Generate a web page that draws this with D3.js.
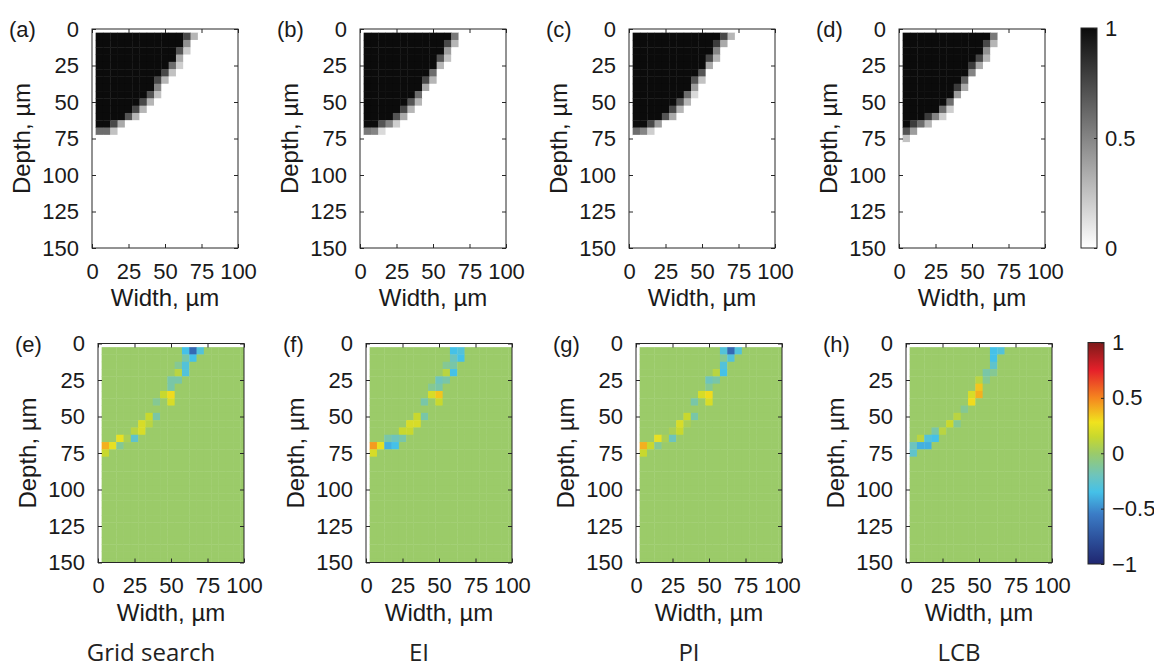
<!DOCTYPE html>
<html>
    <head>
        <title>Depth maps | D3</title>
        <script src="https://d3js.org/d3.v7.min.js" charset="utf-8"></script>
        <style>
            body {
                margin: 0;
                background: white;
            }
            .tick text {
                font-family: "Liberation Sans", Arial, sans-serif;
                font-size: 22px;
                fill: #1a1a1a;
            }
            .tick line, .box {
                stroke: #262626;
                stroke-width: 1;
            }
            .label {
                font-family: "Liberation Sans", Arial, sans-serif;
                fill: #1a1a1a;
            }
            .method {
                font-family: "Open Sans", sans-serif;
                font-size: 24px;
                fill: #222;
            }
        </style>
    </head>

    <body>
        <script>
            // grid cell centres (um)
            var cellWidths = [5, 10, 15, 20, 25, 30, 35, 40, 45, 50, 55, 60, 65, 70, 75, 80, 85, 90, 95, 100];
            var cellDepths = [5, 10, 15, 20, 25, 30, 35, 40, 45, 50, 55, 60, 65, 70, 75,
                              80, 85, 90, 95, 100, 105, 110, 115, 120, 125, 130, 135, 140, 145, 150];

            var widthTicks = [0, 25, 50, 75, 100];
            var depthTicks = [0, 25, 50, 75, 100, 125, 150];
            var grayTicks = [0, 0.5, 1];
            var diffTicks = [-1, -0.5, 0, 0.5, 1];

            var topLabels = ["(a)", "(b)", "(c)", "(d)"];
            var bottomLabels = ["(e)", "(f)", "(g)", "(h)"];
            var methods = ["Grid search", "EI", "PI", "LCB"];

            // top row: per depth row -> [number of black cells, then grey values that follow]
            var edgeGrid = [[12,0.75,0.3],[12,0.45],[11,0.7,0.2],[11,0.35],[10,0.6,0.2],[9,0.75,0.25],[8,0.75,0.3],
                            [8,0.5],[7,0.7,0.25],[6,0.75,0.3],[5,0.75,0.3],[4,0.7,0.3],[2,0.75,0.35],[0,0.6,0.6,0.25]];
            var edgeEI = [[12,0.55],[11,0.75,0.3],[11,0.4],[10,0.7,0.25],[10,0.3],[9,0.6],[8,0.75,0.3],
                          [8,0.35],[7,0.6],[6,0.7,0.3],[5,0.75,0.3],[4,0.7,0.35],[2,0.7,0.5,0.2],[0,0.55,0.5,0.15]];
            var edgePI = [[12,0.75,0.3],[11,0.8,0.35],[11,0.5],[10,0.75,0.3],[10,0.35],[9,0.7],[8,0.7,0.25],
                          [8,0.4],[7,0.6,0.15],[6,0.7,0.3],[5,0.75,0.3],[4,0.7,0.35],[2,0.75,0.4],[0,0.6,0.5,0.2]];
            var edgeLCB = [[12,0.55],[11,0.75,0.3],[11,0.45],[10,0.75,0.3],[9,0.8,0.35],[9,0.5],[8,0.65],
                           [7,0.8,0.35],[7,0.4],[6,0.6],[5,0.6,0.2],[3,0.8,0.5,0.2],[1,0.8,0.6,0.3],[0,0.7,0.4],[0,0.25]];

            // bottom row: non-zero differences [width, depth, value]
            var diffGrid = [[60,5,-0.35],[65,5,-0.65],[70,5,-0.3],[60,10,-0.15],[65,10,-0.35],[55,15,-0.1],[60,15,-0.3],
                            [55,20,0.1],[60,20,-0.3],[50,25,-0.15],[55,25,-0.15],[50,30,-0.15],[45,35,0.15],[50,35,0.3],
                            [40,40,-0.1],[50,40,0.2],[35,50,0.15],[40,50,-0.15],[30,55,0.2],[35,55,0.1],[25,60,0.1],
                            [30,60,0.2],[15,65,0.25],[20,65,0.05],[25,65,-0.25],[5,70,0.4],[10,70,0.25],[15,70,-0.1],[5,75,0.15]];
            var diffEI = [[60,5,-0.35],[65,5,-0.3],[60,10,-0.2],[65,10,-0.35],[55,15,-0.1],[60,15,-0.15],[55,20,0.1],
                          [60,20,-0.35],[50,25,-0.2],[55,25,-0.15],[45,30,-0.1],[50,30,-0.15],[45,35,0.2],[50,35,0.35],
                          [40,40,-0.15],[50,40,0.15],[35,50,0.15],[40,50,-0.15],[30,55,0.2],[35,55,0.2],[25,60,0.15],
                          [30,60,0.15],[15,65,-0.15],[20,65,-0.2],[25,65,-0.15],[5,70,0.45],[10,70,0.25],[15,70,-0.4],
                          [20,70,-0.35],[5,75,0.2]];
            var diffPI = [[60,5,-0.3],[65,5,-0.65],[70,5,-0.3],[60,10,-0.1],[65,10,-0.3],[60,15,-0.3],[55,20,0.1],
                          [60,20,-0.35],[50,25,-0.2],[55,25,-0.15],[50,30,-0.1],[45,35,0.2],[50,35,0.3],[40,40,-0.15],
                          [50,40,0.2],[35,50,0.15],[40,50,-0.15],[30,55,0.2],[35,55,0.05],[25,60,0.05],[30,60,0.15],
                          [15,65,0.25],[20,65,0.05],[25,65,-0.2],[5,70,0.4],[10,70,0.15],[15,70,-0.1],[5,75,0.15]];
            var diffLCB = [[60,5,-0.35],[65,5,-0.3],[60,10,-0.35],[60,15,-0.25],[55,20,-0.15],[60,20,-0.1],[50,25,0.1],
                           [55,25,-0.1],[50,30,0.35],[45,35,0.2],[50,35,0.4],[45,40,0.3],[40,45,-0.1],[35,50,0.1],
                           [30,55,0.15],[35,55,-0.1],[20,60,-0.15],[25,60,0.1],[10,65,0.1],[15,65,-0.3],[20,65,-0.35],
                           [5,70,-0.2],[10,70,-0.4],[15,70,-0.4],[5,75,-0.25]];

            var topEdges = [edgeGrid, edgeEI, edgePI, edgeLCB];
            var bottomDiffs = [diffGrid, diffEI, diffPI, diffLCB];

            var width = 1154, height = 672;
            var plotW = 146, plotH = 219;
            var topLeft = [92, 360, 629, 899], topY = 29;
            var bottomLeft = [98, 366, 636, 906], bottomY = 343.5;

            var svg = d3.select("body").append("svg")
                .attr("width", width)
                .attr("height", height);

            var x = d3.scaleLinear().domain([0, 100]).range([0, plotW]);
            var y = d3.scaleLinear().domain([0, 150]).range([0, plotH]);

            var grayColor = d3.scaleLinear().domain([0, 1]).range(["#ffffff", "#0b0b0b"]);
            var jetStops = [-1, -0.75, -0.55, -0.35, -0.2, 0, 0.15, 0.28, 0.5, 0.75, 1];
            var jetColors = ["#1f2670", "#2e55a0", "#3b7cc6", "#45c1e8", "#6ec4bc", "#9bcb69",
                             "#c8d82e", "#f0e31e", "#f5861f", "#e5202a", "#7d1a1a"];
            var jetColor = d3.scaleLinear().domain(jetStops).range(jetColors);

            function gridFromEdges(edges) {
                var cells = [];
                cellDepths.forEach(function(dep, r) {
                    var row = edges[r] || [0];
                    cellWidths.forEach(function(w, c) {
                        var v = 0;
                        if (c < row[0]) v = 1;
                        else if (c - row[0] + 1 < row.length) v = row[c - row[0] + 1];
                        cells.push({w: w, d: dep, v: v});
                    });
                });
                return cells;
            }

            function gridFromDiffs(diffs) {
                var cells = [];
                cellDepths.forEach(function(dep) {
                    cellWidths.forEach(function(w) {
                        var hit = diffs.find(function(p) { return p[0] === w && p[1] === dep; });
                        cells.push({w: w, d: dep, v: hit ? hit[2] : 0});
                    });
                });
                return cells;
            }

            function drawPanel(left, top, cells, color, label, id) {
                var g = svg.append("g").attr("transform", "translate(" + left + "," + top + ")");

                svg.append("clipPath").attr("id", id)
                    .append("rect").attr("width", plotW).attr("height", plotH);

                g.append("g").attr("clip-path", "url(#" + id + ")")
                    .selectAll("rect")
                    .data(cells)
                    .enter()
                    .append("rect")
                    .attr("x", function(d) { return x(d.w - 2.5); })
                    .attr("y", function(d) { return y(d.d - 2.5); })
                    .attr("width", x(5) + 0.4)
                    .attr("height", y(5) + 0.4)
                    .attr("fill", function(d) { return color(d.v); });

                g.append("rect").attr("class", "box")
                    .attr("width", plotW).attr("height", plotH).attr("fill", "none");

                g.append("g").attr("transform", "translate(0," + plotH + ")")
                    .call(d3.axisBottom(x).tickValues(widthTicks).tickSizeInner(-4).tickSizeOuter(0).tickPadding(15));
                g.append("g")
                    .call(d3.axisTop(x).tickValues(widthTicks).tickSizeInner(-4).tickSizeOuter(0).tickFormat(""));
                g.append("g")
                    .call(d3.axisLeft(y).tickValues(depthTicks).tickSizeInner(-4).tickSizeOuter(0).tickPadding(13));
                g.append("g").attr("transform", "translate(" + plotW + ",0)")
                    .call(d3.axisRight(y).tickValues(depthTicks).tickSizeInner(-4).tickSizeOuter(0).tickFormat(""));
                g.selectAll(".domain").remove();

                g.append("text").attr("class", "label")
                    .attr("transform", "translate(-62," + (plotH / 2) + ") rotate(-90)")
                    .attr("text-anchor", "middle")
                    .style("font-size", "24px")
                    .text("Depth, \u00b5m");

                g.append("text").attr("class", "label")
                    .attr("x", plotW / 2)
                    .attr("y", plotH + 58)
                    .attr("text-anchor", "middle")
                    .style("font-size", "24px")
                    .text("Width, \u00b5m");

                svg.append("text").attr("class", "label")
                    .attr("x", left - 83)
                    .attr("y", top + 8)
                    .style("font-size", "22px")
                    .text(label);
            }

            function drawColorbar(left, top, h, domain, stops, colors, ticks, id) {
                var grad = svg.append("defs").append("linearGradient")
                    .attr("id", id).attr("x1", 0).attr("y1", 1).attr("x2", 0).attr("y2", 0);
                stops.forEach(function(s, i) {
                    grad.append("stop")
                        .attr("offset", (s - domain[0]) / (domain[1] - domain[0]))
                        .attr("stop-color", colors[i]);
                });
                var cy = d3.scaleLinear().domain(domain).range([h, 0]);
                var g = svg.append("g").attr("transform", "translate(" + left + "," + top + ")");
                g.append("rect").attr("width", 16).attr("height", h)
                    .attr("fill", "url(#" + id + ")");
                g.append("rect").attr("class", "box").attr("width", 16).attr("height", h).attr("fill", "none");
                g.append("g").attr("transform", "translate(16,0)")
                    .call(d3.axisRight(cy).tickValues(ticks).tickSizeInner(-3).tickSizeOuter(0).tickPadding(8)
                        .tickFormat(function(t) { return String(t).replace("-", "\u2212"); }));
                g.selectAll(".domain").remove();
            }

            topLeft.forEach(function(left, i) {
                drawPanel(left, topY, gridFromEdges(topEdges[i]), grayColor, topLabels[i], "clipTop" + i);
            });
            bottomLeft.forEach(function(left, i) {
                drawPanel(left, bottomY, gridFromDiffs(bottomDiffs[i]), jetColor, bottomLabels[i], "clipBot" + i);
                svg.append("text").attr("class", "method")
                    .attr("x", left + 53)
                    .attr("y", 661)
                    .attr("text-anchor", "middle")
                    .text(methods[i]);
            });

            drawColorbar(1081, 28, 220, [0, 1], [0, 1], ["#ffffff", "#0b0b0b"], grayTicks, "grayGrad");
            drawColorbar(1088, 342.5, 221.5, [-1, 1], jetStops, jetColors, diffTicks, "jetGrad");
        </script>
    </body>
</html>
